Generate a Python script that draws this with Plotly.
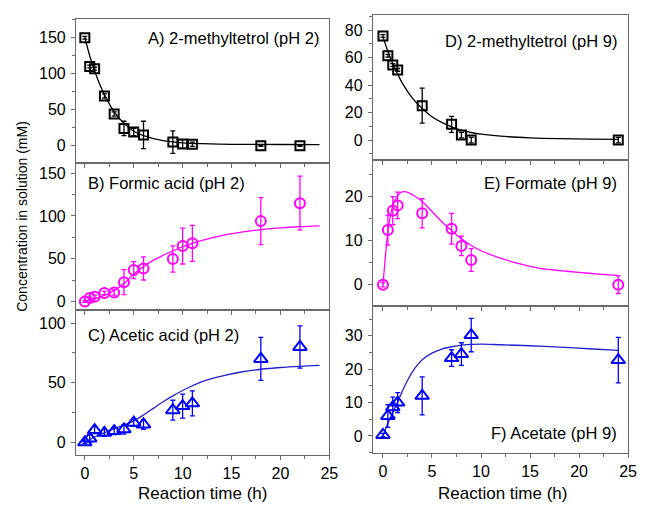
import plotly.graph_objects as go

W, H = 649, 505
OFF = 8  # page body margin of the html page

# ---------------- data ----------------
t_ph2 = [0, 0.5, 1, 2, 3, 4, 5, 6, 9, 10, 11, 18, 22]
A_y = [150, 110, 107, 69, 44, 24, 19, 15, 5, 2.5, 2, 0, 0]
A_err = [2, 2, 2, 3, 3, 10, 5, 19, 15.5, 6, 3, 1, 1]
B_y = [0, 4, 5.5, 10, 10.5, 22.6, 36.7, 38.6, 49.6, 64.8, 68, 94, 115]
B_err = [1, 1, 2, 2, 3, 14.6, 10, 13.5, 15.4, 21, 21, 27.5, 31.6]
C_y = [0, 3.3, 10.3, 8, 9.5, 10.9, 16.5, 15, 27, 30.4, 32.7, 70, 80]
C_err = [1, 3, 3, 3, 3, 4, 3, 4, 8.3, 10, 10.5, 18, 17.7]

t_ph9 = [0, 0.5, 1, 1.5, 4, 7, 8, 9, 24]
D_y = [75.6, 61.3, 54.5, 51, 25, 11.4, 3.6, 0, 0]
D_err = [1, 1, 1, 1, 12.7, 5.8, 2, 2, 2]
E_y = [0, 12.4, 16.8, 18, 16.2, 12.7, 8.8, 5.6, 0]
E_err = [0.5, 3.4, 3.2, 3, 3.3, 3.5, 2.2, 2.6, 2]
F_y = [0.3, 6, 8.6, 10, 12, 23.3, 24.5, 30.2, 22.7]
F_err = [0.5, 3.4, 3, 3, 5.7, 2.5, 3.4, 5, 6.8]

# fitted curves
A_fit_t = [0, 0.5, 1, 1.5, 2, 3, 4, 5, 6, 8, 10, 12, 15, 20, 24]
A_fit_y = [150, 125, 104, 86, 71, 47, 31, 20, 14, 7, 4, 2.8, 2, 1.7, 1.6]
B_fit_t = [0, 1, 2, 3, 4, 5, 6, 7, 8, 9, 10, 11, 12, 14, 16, 18, 20, 22, 24]
B_fit_y = [0, 3, 7, 13, 21, 32, 41, 48, 54, 59, 64, 68, 71.5, 77, 81, 84, 86, 87.5, 88.5]
C_fit_t = [0, 1, 2, 3, 4, 5, 6, 7, 8, 9, 10, 11, 12, 14, 16, 18, 20, 22, 24]
C_fit_y = [0, 4.5, 8, 11.5, 14.5, 18, 23, 28.5, 34, 39, 43.5, 47.5, 51, 55.5, 59, 61.3, 62.8, 63.8, 64.5]
D_fit_t = [0, 0.5, 1, 1.5, 2, 3, 4, 5, 6, 7, 8, 9, 10, 12, 15, 18, 21, 24]
D_fit_y = [75, 64.5, 55.5, 48, 41, 30.5, 23, 17, 12.8, 9.6, 7.2, 5.5, 4.3, 2.8, 1.6, 1, 0.7, 0.5]
E_fit_t = [0, 0.25, 0.5, 0.75, 1, 1.5, 2, 2.5, 3, 4, 5, 6, 7, 8, 9, 10, 12, 14, 16, 18, 20, 22, 24]
E_fit_y = [0, 6.5, 12, 15.5, 17.8, 20.2, 21.1, 21, 20.4, 18.9, 16.6, 14.3, 12.3, 10.4, 8.9, 7.7, 6, 4.7, 3.7, 3.2, 2.8, 2.4, 2.1]
F_fit_t = [0, 0.5, 1, 1.5, 2, 2.5, 3, 3.5, 4, 5, 6, 7, 8, 9, 10, 12, 15, 18, 21, 24]
F_fit_y = [0, 3.8, 7, 10.2, 13.6, 16.6, 19.2, 21.2, 22.8, 24.8, 26, 26.7, 27.2, 27.4, 27.5, 27.3, 27, 26.6, 26.1, 25.6]

panel_labels = ["A) 2-methyltetrol (pH 2)", "B) Formic acid (pH 2)", "C) Acetic acid (pH 2)",
                "D) 2-methyltetrol (pH 9)", "E) Formate (pH 9)", "F) Acetate (pH 9)"]
x_title = "Reaction time (h)"
y_title = "Concentration in solution (mM)"

# ---------------- styling ----------------
FONT = "Arial, 'Liberation Sans', sans-serif"
BLACK, MAG, BLUE = "#000000", "#FF00FF", "#0000FF"
BLUE_LINE = "#2222CC"
FRAME = "#6a6a6a"
TICK_FS = 16
LABEL_FS = 16.5

def px_x(p): return (p - OFF) / W
def px_y(p): return 1 - (p - OFF) / H

left_dom = [px_x(77), px_x(334)]
right_dom = [px_x(378), px_x(637)]
panels = [
    (t_ph2, A_y, A_err, A_fit_t, A_fit_y, BLACK, BLACK, "square-open", 9, left_dom, (19, 163), [-24, 176], 50, [-0.9, 25.02], False),
    (t_ph2, B_y, B_err, B_fit_t, B_fit_y, MAG, MAG, "circle-open", 10, left_dom, (163, 310), [-10, 162], 50, [-0.9, 25.02], False),
    (t_ph2, C_y, C_err, C_fit_t, C_fit_y, BLUE, BLUE_LINE, "triangle-up-open", 12, left_dom, (310, 455), [-10.6, 111], 50, [-0.9, 25.02], True),
    (t_ph9, D_y, D_err, D_fit_t, D_fit_y, BLACK, BLACK, "square-open", 9, right_dom, (15, 160), [-14.5, 90.9], 20, [-1.03, 25.02], False),
    (t_ph9, E_y, E_err, E_fit_t, E_fit_y, MAG, MAG, "circle-open", 10, right_dom, (160, 306), [-4.84, 28.3], 10, [-1.03, 25.02], False),
    (t_ph9, F_y, F_err, F_fit_t, F_fit_y, BLUE, BLUE_LINE, "triangle-up-open", 12, right_dom, (306, 453), [-5.1, 38.9], 10, [-1.03, 25.02], True),
]

fig = go.Figure()
layout = dict(
    width=W, height=H, margin=dict(l=0, r=0, t=0, b=0),
    paper_bgcolor="white", plot_bgcolor="white", showlegend=False,
    font=dict(family=FONT, size=TICK_FS, color="black"),
)

n = len(panels)
for i, (t, y, err, ft, fy, col, lcol, sym, msz, xdom, ypx, yr, dt, xr, showx) in enumerate(panels):
    k = i + 1
    xa = "x" if k == 1 else f"x{k}"
    ya = "y" if k == 1 else f"y{k}"
    fig.add_trace(go.Scatter(x=ft, y=fy, mode="lines", xaxis=xa, yaxis=ya,
                             line=dict(color=lcol, width=1.3, shape="spline", smoothing=0.8),
                             hoverinfo="skip"))
    fig.add_trace(go.Scatter(x=t, y=y, mode="markers", xaxis=xa, yaxis=ya,
                             marker=dict(symbol=sym, size=msz, color=col, line=dict(width=2, color=col)),
                             error_y=dict(type="data", array=err, visible=True, color=col,
                                          thickness=1.3, width=2.5)))
    ydom = [px_y(ypx[1]), px_y(ypx[0])]
    common_x = dict(range=xr, dtick=5, tick0=0, showgrid=False, zeroline=False)
    common_y = dict(range=yr, dtick=dt, tick0=0, showgrid=False, zeroline=False)
    layout[f"xaxis{k}"] = dict(
        domain=xdom, anchor=ya, showline=True, linecolor=FRAME, linewidth=1.2, mirror=True,
        ticks="outside", ticklen=4, tickcolor=FRAME, tickwidth=1.2,
        minor=dict(ticks="outside", ticklen=2.5, tickcolor=FRAME, dtick=2.5, tick0=0),
        showticklabels=showx, tickfont=dict(size=TICK_FS),
        **common_x)
    layout[f"yaxis{k}"] = dict(
        domain=ydom, anchor=xa, showline=True, linecolor=FRAME, linewidth=1.2, mirror=True,
        ticks="outside", ticklen=4, tickcolor=FRAME, tickwidth=1.2,
        minor=dict(ticks="outside", ticklen=2.5, tickcolor=FRAME, dtick=dt / 2, tick0=0),
        tickfont=dict(size=TICK_FS), ticklabelstandoff=2,
        **common_y)
    # inward ticks on top and right
    layout[f"xaxis{k + n}"] = dict(
        domain=xdom, overlaying=xa, anchor=ya, side="top", showline=False,
        ticks="inside", ticklen=4, tickcolor=FRAME, tickwidth=1.2,
        minor=dict(ticks="inside", ticklen=2.5, tickcolor=FRAME, dtick=2.5, tick0=0),
        showticklabels=False, **common_x)
    layout[f"yaxis{k + n}"] = dict(
        domain=ydom, overlaying=ya, anchor=xa, side="right", showline=False,
        ticks="inside", ticklen=4, tickcolor=FRAME, tickwidth=1.2,
        minor=dict(ticks="inside", ticklen=2.5, tickcolor=FRAME, dtick=dt / 2, tick0=0),
        showticklabels=False, **common_y)

fig.update_layout(**layout)

# panel labels
label_pos = [
    (325, 38, "right"), (87, 183, "left"), (87, 335, "left"),
    (628, 41, "right"), (628, 183, "right"), (628, 433, "right"),
]
for (px, py, al), txt in zip(label_pos, panel_labels):
    fig.add_annotation(x=px_x(px), y=px_y(py), xref="paper", yref="paper", text=txt,
                       showarrow=False, xanchor=al, yanchor="middle",
                       font=dict(size=LABEL_FS, family=FONT, color="black"))

# axis titles
for cx in (205, 509):
    fig.add_annotation(x=px_x(cx), y=px_y(493), xref="paper", yref="paper", text=x_title,
                       showarrow=False, xanchor="center", yanchor="middle", font=dict(size=17))
fig.add_annotation(x=px_x(22), y=px_y(216), xref="paper", yref="paper", text=y_title,
                   textangle=-90, showarrow=False, xanchor="center", yanchor="middle",
                   font=dict(size=14))

fig.write_html("out.html")
